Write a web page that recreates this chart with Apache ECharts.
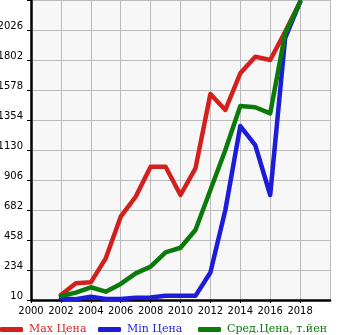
<!DOCTYPE html>
<html><head><meta charset="utf-8">
<script src="https://cdn.jsdelivr.net/npm/echarts@6/dist/echarts.min.js"></script>
<style>html,body{margin:0;padding:0;background:#fff}#c{width:345px;height:335px}</style>
</head><body><div id="c"></div>
<script>
var years = [2002,2003,2004,2005,2006,2007,2008,2009,2010,2011,2012,2013,2014,2015,2016,2017,2018];
var maxPrice = [47,135,142,321,632,781,1005,1005,794,993,1548,1429,1703,1827,1802,2013,2235];
var minPrice = [22,15,35,17,17,27,28,42,41,41,215,682,1309,1167,794,1966,2235];
var avgPrice = [40,65,105,72,130,209,259,366,400,533,831,1130,1459,1449,1404,2000,2235];
var seriesNames = ['Max Цена','Min Цена','Сред.Цена, т.йен'];
var seriesColors = ['#d41f1f','#1c1cd9','#0a7a0a'];
var yMin = 10, yStep = 224, yMax = 2250;
var xMin = 2000, xMax = 2020, xStep = 2;

function pts(arr){ return years.map(function(y,i){ return [y, arr[i]-yMin]; }); }
var chart = echarts.init(document.getElementById('c'), null, {renderer:'canvas'});
var all = [maxPrice, minPrice, avgPrice];
var series = all.map(function(a,i){
  return {name: seriesNames[i], type:'line', data: pts(a), showSymbol:false, symbol:'none',
    lineStyle:{color:seriesColors[i], width:4.5, join:'round', cap:'round'}, itemStyle:{color:seriesColors[i]}};
});
var legendLefts = [0, 98, 198];
var legends = seriesNames.map(function(n,i){
  return {data:[n], left:legendLefts[i], top:324, itemWidth:23, itemHeight:5, itemGap:0,
    icon:'roundRect', padding:0,
    textStyle:{color:seriesColors[i], fontFamily:'DejaVu Serif', fontSize:11, padding:[0,0,0,1]}};
});
chart.setOption({
  animation:false,
  grid:{left:31, right:15, top:0, bottom:35, show:true, backgroundColor:'#f7f7f7', borderWidth:0, outerBoundsMode:'none', containLabel:false},
  legend: legends,
  xAxis:{type:'value', min:xMin, max:xMax, interval:xStep,
    axisLine:{show:true, lineStyle:{color:'#000', width:2.5}},
    axisTick:{show:true, length:3, lineStyle:{color:'#000'}},
    axisLabel:{color:'#000', fontFamily:'DejaVu Sans', fontSize:10, margin:6, showMaxLabel:false, hideOverlap:false,
      formatter:function(v){ return v===xMax ? '' : String(v); }},
    splitLine:{show:true, lineStyle:{color:'#bbbbbb', width:1}}},
  yAxis:{type:'value', min:0, max:yMax-yMin, interval:yStep,
    axisLine:{show:true, lineStyle:{color:'#000', width:2.5}},
    axisTick:{show:true, length:4, lineStyle:{color:'#000'}},
    axisLabel:{color:'#000', fontFamily:'DejaVu Sans', fontSize:10, margin:8, verticalAlign:'bottom', lineHeight:8,
      formatter:function(v){ return (v+yMin)===yMax ? '' : String(v+yMin); }},
    splitLine:{show:true, lineStyle:{color:'#bbbbbb', width:1}}},
  series: series
});
</script></body></html>
